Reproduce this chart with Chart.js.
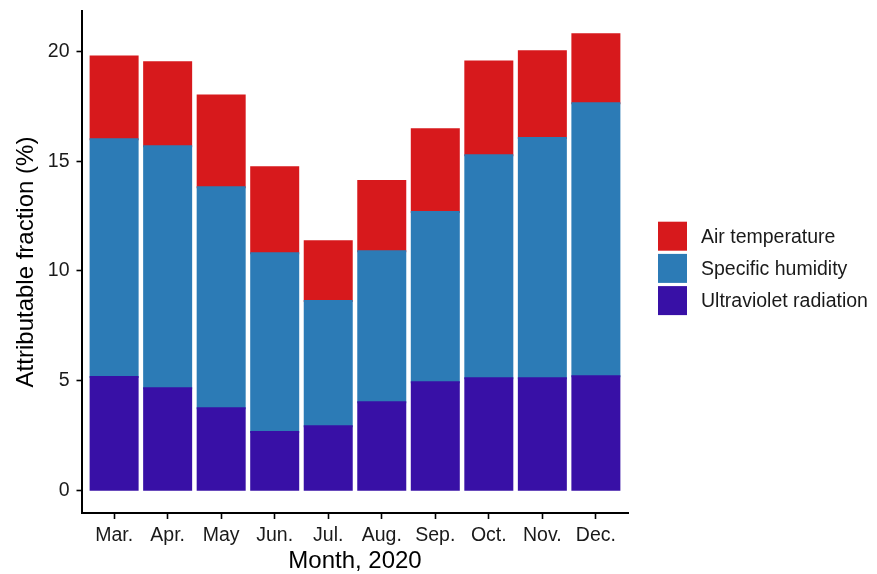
<!DOCTYPE html>
<html>
<head>
<meta charset="utf-8">
<script src="https://cdn.jsdelivr.net/npm/chart.js@4/dist/chart.umd.min.js"></script>
<style>
  html, body { margin: 0; padding: 0; background: #ffffff; }
  #wrap { width: 877px; height: 574px; }
</style>
</head>
<body>
<div id="wrap"><canvas id="chart" width="877" height="574"></canvas></div>
<script>
// Month labels along the x axis
const months = ['Mar.', 'Apr.', 'May', 'Jun.', 'Jul.', 'Aug.', 'Sep.', 'Oct.', 'Nov.', 'Dec.'];

// Attributable fraction (%) by driver, stacked per month
const ultraviolet = [5.16, 4.65, 3.74, 2.65, 2.92, 4.01, 4.93, 5.11, 5.11, 5.20];
const humidity    = [10.85, 11.04, 10.08, 8.16, 5.71, 6.89, 7.76, 10.17, 10.96, 12.45];
const airTemp     = [3.78, 3.83, 4.19, 3.92, 2.73, 3.20, 3.78, 4.28, 3.95, 3.15];

// y-axis tick values
const yTicks = [0, 5, 10, 15, 20];

const seriesNames = ['Ultraviolet radiation', 'Specific humidity', 'Air temperature'];
const seriesColors = ['#3810a6', '#2c7bb6', '#d7191c'];

const FONT = '"Liberation Sans", Arial, Helvetica, sans-serif';

function toPoints(values) {
  return values.map((v, i) => ({ x: i, y: v }));
}

// Legend drawn to the right of the panel, top entry = top of stack
const sideLegend = {
  id: 'sideLegend',
  afterDraw(chart, args, opts) {
    const ctx = chart.ctx;
    const items = chart.data.datasets.slice().reverse();
    ctx.save();
    ctx.font = opts.fontSize + 'px ' + FONT;
    ctx.textBaseline = 'middle';
    ctx.textAlign = 'left';
    items.forEach((ds, i) => {
      const y = opts.top + i * opts.pitch;
      ctx.fillStyle = ds.backgroundColor;
      ctx.fillRect(opts.left, y, opts.box, opts.box);
      ctx.fillStyle = '#1a1a1a';
      ctx.fillText(ds.label, opts.left + opts.box + opts.gap, y + opts.box / 2 + 1);
    });
    ctx.restore();
  }
};

new Chart(document.getElementById('chart'), {
  type: 'bar',
  data: {
    datasets: [
      { label: seriesNames[0], data: toPoints(ultraviolet), backgroundColor: seriesColors[0] },
      { label: seriesNames[1], data: toPoints(humidity), backgroundColor: seriesColors[1] },
      { label: seriesNames[2], data: toPoints(airTemp), backgroundColor: seriesColors[2] }
    ]
  },
  options: {
    responsive: false,
    devicePixelRatio: 1,
    animation: false,
    layout: { padding: { top: 11, right: 249, left: 0, bottom: 0 } },
    datasets: {
      bar: { barPercentage: 0.878, categoryPercentage: 1, borderWidth: 0, inflateAmount: 1 }
    },
    plugins: {
      legend: { display: false },
      tooltip: { enabled: false },
      sideLegend: { left: 658, top: 221.7, box: 29, pitch: 32.2, gap: 14, fontSize: 19.5 }
    },
    scales: {
      x: {
        type: 'linear',
        stacked: true,
        offset: false,
        min: -0.6,
        max: 9.6,
        afterFit(scale) {
          scale.height = 61;
          scale.paddingLeft = 0;
          scale.paddingRight = 0;
        },
        afterBuildTicks(scale) {
          scale.ticks = months.map((m, i) => ({ value: i }));
        },
        ticks: {
          autoSkip: false,
          maxRotation: 0,
          padding: 4.5,
          color: '#1a1a1a',
          font: { family: FONT, size: 19.5 },
          callback: (v) => months[v]
        },
        grid: {
          offset: false,
          drawOnChartArea: false,
          drawTicks: true,
          tickLength: 6,
          tickWidth: 1.6,
          tickColor: '#000000'
        },
        border: { display: true, color: '#000000', width: 2 },
        title: {
          display: true,
          text: 'Month, 2020',
          color: '#000000',
          font: { family: FONT, size: 24, lineHeight: 1.05 },
          padding: { top: 0, bottom: 0 }
        }
      },
      y: {
        stacked: true,
        min: -1.04,
        max: 21.86,
        afterFit(scale) {
          scale.width = 82;
          scale.paddingTop = 0;
          scale.paddingBottom = 0;
        },
        afterBuildTicks(scale) {
          scale.ticks = yTicks.map(v => ({ value: v }));
        },
        ticks: {
          padding: 7,
          color: '#1a1a1a',
          font: { family: FONT, size: 19.5 }
        },
        grid: {
          drawOnChartArea: false,
          drawTicks: true,
          tickLength: 5.5,
          tickWidth: 1.6,
          tickColor: '#000000'
        },
        border: { display: true, color: '#000000', width: 2 },
        title: {
          display: true,
          text: 'Attributable fraction (%)',
          color: '#000000',
          font: { family: FONT, size: 24 },
          padding: { top: 12, bottom: 0 }
        }
      }
    }
  },
  plugins: [sideLegend]
});
</script>
</body>
</html>
